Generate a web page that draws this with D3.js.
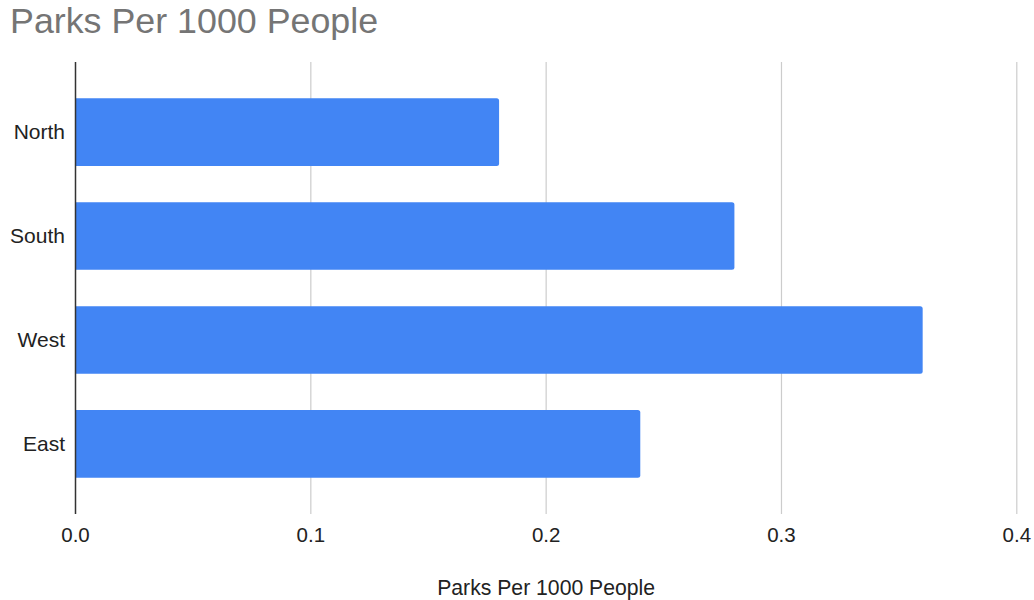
<!DOCTYPE html>
<html><head><meta charset="utf-8">
<script src="https://cdn.jsdelivr.net/npm/d3@7"></script>
<style>body{margin:0;background:#fff}svg{display:block;font-family:"Liberation Sans",Arial,sans-serif}</style>
</head><body>
<svg id="c" width="1034" height="600"></svg>
<script>
const categories = ["North", "South", "West", "East"];
const values = [0.18, 0.28, 0.36, 0.24];
const xTicks = [0, 0.1, 0.2, 0.3, 0.4];
const title = "Parks Per 1000 People";
const xTitle = "Parks Per 1000 People";

(function () {
const svg = d3.select("#c");
const pL = 75.5, pR = 1016.8, pT = 62, pB = 514;
const x = d3.scaleLinear().domain([0, 0.4]).range([pL, pR]);
const y = d3.scaleBand().domain(categories).range([pT, pB]).padding(0.35);

svg.append("text").attr("x", 10).attr("y", 32.5).attr("font-size", 35.8).attr("fill", "#757575").text(title);

svg.append("g").selectAll("line").data(xTicks.slice(1)).join("line")
  .attr("x1", d => x(d)).attr("x2", d => x(d)).attr("y1", pT).attr("y2", pB)
  .attr("stroke", "#cccccc").attr("stroke-width", 1.2);

svg.append("g").selectAll("path").data(categories).join("path")
  .attr("fill", "#4285f4")
  .attr("d", (c, i) => {
    const x0 = x(0), x1 = x(values[i]), y0 = y(c), h = y.bandwidth(), r = 2.5;
    return `M${x0},${y0}H${x1 - r}Q${x1},${y0} ${x1},${y0 + r}V${y0 + h - r}Q${x1},${y0 + h} ${x1 - r},${y0 + h}H${x0}Z`;
  });

svg.append("line").attr("x1", x(0)).attr("x2", x(0)).attr("y1", pT).attr("y2", pB)
  .attr("stroke", "#333333").attr("stroke-width", 1.5);

svg.append("g").selectAll("text").data(categories).join("text")
  .attr("x", 65).attr("y", d => y(d) + y.bandwidth() / 2 + 7)
  .attr("text-anchor", "end").attr("font-size", 21).attr("fill", "#222").text(d => d);

svg.append("g").selectAll("text").data(xTicks).join("text")
  .attr("x", d => x(d)).attr("y", 542)
  .attr("text-anchor", "middle").attr("font-size", 20.5).attr("fill", "#222").text(d => d3.format(".1f")(d));

svg.append("text").attr("x", (pL + pR) / 2).attr("y", 595)
  .attr("text-anchor", "middle").attr("font-size", 21.2).attr("fill", "#222").text(xTitle);
})();
</script>
</body></html>
